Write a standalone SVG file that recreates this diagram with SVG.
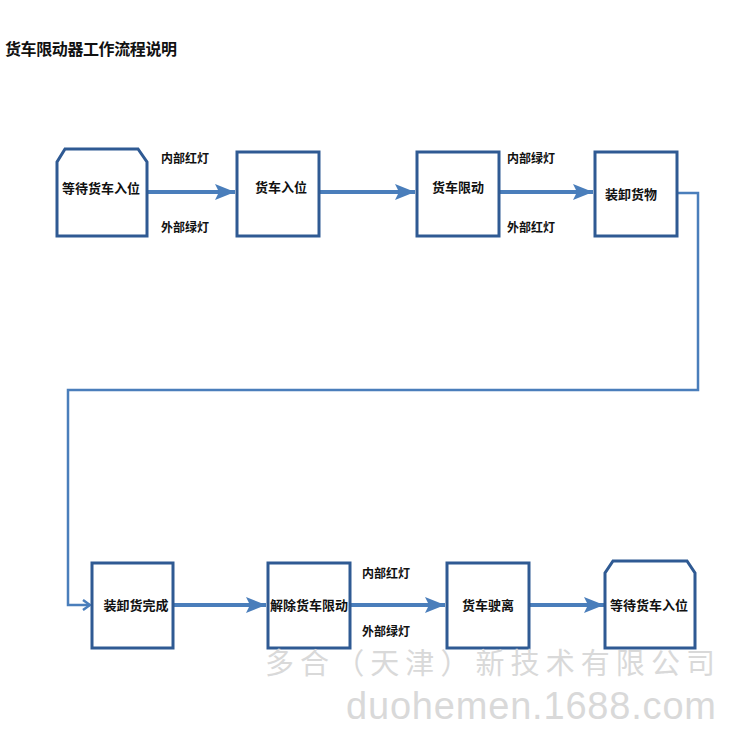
<svg xmlns="http://www.w3.org/2000/svg" width="750" height="750" viewBox="0 0 750 750">
<style>
.box{fill:#fff;stroke:#2f5a93;stroke-width:3}
.nt{font-family:"Noto Sans CJK SC","Noto Sans",sans-serif;font-size:13px;font-weight:bold;fill:#111;text-anchor:middle;dominant-baseline:central}
.lb{font-family:"Noto Sans CJK SC","Noto Sans",sans-serif;font-size:12px;font-weight:bold;fill:#111;text-anchor:middle;dominant-baseline:central}
.ar{stroke:#4a7ebb;stroke-width:4;fill:none}
.ln{stroke:#4a7ebb;stroke-width:2.5;fill:none}
.wm{fill:#d9d9d9}
</style>
<defs>
<marker id="ah" markerWidth="5" markerHeight="4" refX="5" refY="2" orient="auto" markerUnits="strokeWidth">
<path d="M0,0 L5,2 L0,4 L1,2 Z" fill="#4a7ebb"/>
</marker>
<marker id="oh" markerWidth="10" markerHeight="12" refX="9" refY="6" orient="auto" markerUnits="userSpaceOnUse">
<path d="M2,1 L9,6 L2,11" fill="none" stroke="#4a7ebb" stroke-width="2.5"/>
</marker>
</defs>
<text x="5" y="48" font-family="'Noto Sans CJK SC',sans-serif" font-size="16" font-weight="bold" fill="#111" dominant-baseline="central" textLength="172">货车限动器工作流程说明</text>
<g id="connectors">
<line class="ar" x1="147" y1="192" x2="235" y2="192" marker-end="url(#ah)"/>
<line class="ar" x1="319" y1="192" x2="415" y2="192" marker-end="url(#ah)"/>
<line class="ar" x1="499" y1="192" x2="593" y2="192" marker-end="url(#ah)"/>
<polyline class="ln" points="677,193 698,193 698,390 68,390 68,605 90,605" marker-end="url(#oh)"/>
<line class="ar" x1="173" y1="605" x2="266" y2="605" marker-end="url(#ah)"/>
<line class="ar" x1="350" y1="605" x2="445" y2="605" marker-end="url(#ah)"/>
<line class="ar" x1="529" y1="605" x2="604" y2="605" marker-end="url(#ah)"/>
<text class="lb" x="185" y="157">内部红灯</text>
<text class="lb" x="185" y="226">外部绿灯</text>
<text class="lb" x="531" y="157">内部绿灯</text>
<text class="lb" x="531" y="226">外部红灯</text>
<text class="lb" x="386" y="572">内部红灯</text>
<text class="lb" x="386" y="630">外部绿灯</text>
</g>
<g id="n1">
<path class="box" d="M65,149 L138,149 L147,162 L147,236 L57,236 L57,162 Z"/>
<text class="nt" x="101" y="187">等待货车入位</text>
</g>
<g id="n2">
<rect class="box" x="237" y="152" width="82" height="84"/>
<text class="nt" x="281" y="186">货车入位</text>
</g>
<g id="n3">
<rect class="box" x="417" y="152" width="82" height="84"/>
<text class="nt" x="458" y="186">货车限动</text>
</g>
<g id="n4">
<rect class="box" x="595" y="152" width="82" height="84"/>
<text class="nt" x="631" y="193">装卸货物</text>
</g>
<g id="n5">
<rect class="box" x="92" y="563" width="81" height="85"/>
<text class="nt" x="136" y="604">装卸货完成</text>
</g>
<g id="n6">
<rect class="box" x="268" y="563" width="82" height="85"/>
<text class="nt" x="309" y="604">解除货车限动</text>
</g>
<g id="n7">
<rect class="box" x="447" y="563" width="82" height="85"/>
<text class="nt" x="488" y="604">货车驶离</text>
</g>
<g id="n8">
<path class="box" d="M613,561 L687,561 L695,573 L695,648 L605,648 L605,573 Z"/>
<text class="nt" x="649" y="604">等待货车入位</text>
</g>
<text class="wm" x="265" y="674" font-family="'Noto Sans CJK SC',sans-serif" font-size="29" textLength="450">多合（天津）新技术有限公司</text>
<text class="wm" x="346" y="719" font-family="'Liberation Sans',sans-serif" font-size="38" textLength="370">duohemen.1688.com</text>
</svg>
